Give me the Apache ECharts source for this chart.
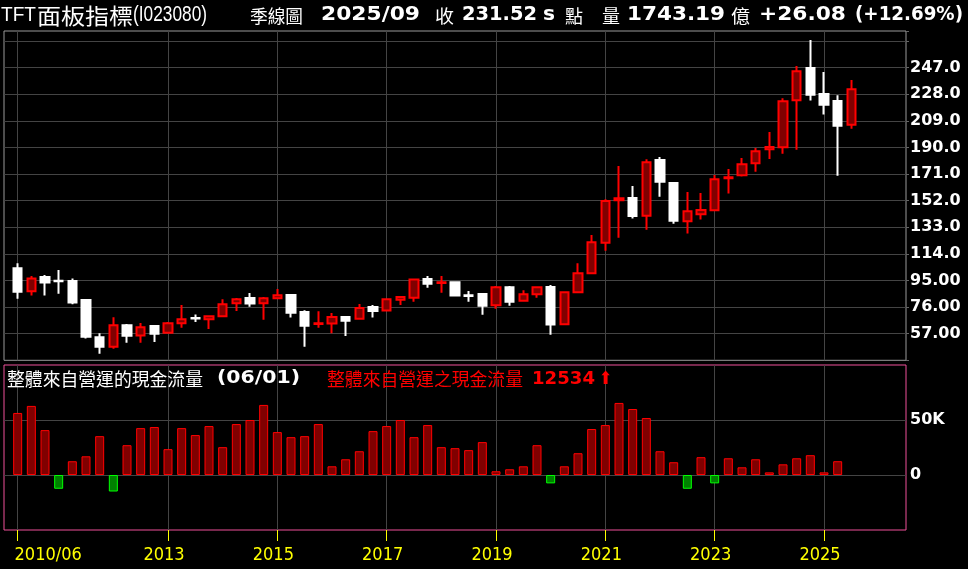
<!DOCTYPE html>
<html><head><meta charset="utf-8">
<script src="https://cdn.jsdelivr.net/npm/echarts@6/dist/echarts.min.js"></script>
<style>html,body{margin:0;padding:0;background:#000;}#c{width:968px;height:569px;}</style>
</head><body><div id="c"></div>
<script>
// ---- data ----
const quarters = ['2010/06','2010/09','2010/12',
 '2011/03','2011/06','2011/09','2011/12','2012/03','2012/06','2012/09','2012/12',
 '2013/03','2013/06','2013/09','2013/12','2014/03','2014/06','2014/09','2014/12',
 '2015/03','2015/06','2015/09','2015/12','2016/03','2016/06','2016/09','2016/12',
 '2017/03','2017/06','2017/09','2017/12','2018/03','2018/06','2018/09','2018/12',
 '2019/03','2019/06','2019/09','2019/12','2020/03','2020/06','2020/09','2020/12',
 '2021/03','2021/06','2021/09','2021/12','2022/03','2022/06','2022/09','2022/12',
 '2023/03','2023/06','2023/09','2023/12','2024/03','2024/06','2024/09','2024/12',
 '2025/03','2025/06','2025/09'];
const opens = [103.7,87.3,97.5,94.8,94.6,81.1,54.4,47.7,63.0,55.8,
 62.5,57.7,64.4,68.2,67.3,69.4,78.7,82.5,78.7,82.3,
 84.6,72.5,64.0,64.2,68.9,67.7,76.1,73.5,81.3,82.7,
 96.1,93.3,93.7,84.4,85.4,77.3,90.1,80.6,85.1,90.4,
 63.7,86.6,100.1,122.0,152.3,154.0,141.3,181.1,164.6,137.3,
 142.3,145.1,168.0,170.1,178.7,188.7,190.1,223.7,246.8,228.2,
 223.2,206.3];
const closes = [87.0,96.5,93.5,94.4,79.2,54.9,47.7,63.0,55.6,61.6,
 57.0,64.4,67.3,67.8,69.4,78.0,81.6,78.5,82.3,84.4,
 72.0,62.7,64.4,68.9,66.3,75.4,73.2,81.6,83.2,95.8,
 92.7,93.7,84.2,84.0,77.0,90.1,79.9,85.1,90.1,63.5,
 86.6,100.1,122.3,151.8,153.7,141.1,179.4,165.6,137.7,144.4,
 145.4,167.3,168.8,178.0,187.3,190.4,223.0,244.4,227.7,220.6,
 205.44,231.52];
const lows = [82.0,84.2,84.2,85.6,78.0,53.5,42.7,46.3,50.6,50.6,
 51.1,57.3,61.3,65.4,60.4,69.4,73.2,76.3,67.0,82.3,
 68.5,47.7,61.3,57.3,55.4,67.0,68.5,73.5,77.5,79.9,
 89.9,86.3,83.5,79.9,70.6,74.9,77.0,80.6,82.7,56.3,
 63.7,86.6,100.1,116.3,125.6,139.2,131.3,154.9,135.6,128.5,
 138.5,145.1,157.2,169.2,172.7,181.8,185.6,188.4,223.5,213.5,
 169.9,203.4];
const highs = [107.3,98.2,98.9,102.5,96.5,81.1,57.3,68.7,63.9,64.6,
 62.5,65.4,77.5,70.8,70.1,81.6,82.5,86.1,83.2,88.9,
 85.4,73.7,73.0,71.8,69.6,78.2,77.5,82.3,83.9,95.8,
 98.2,98.2,94.4,87.5,86.1,91.1,91.1,88.0,90.8,91.8,
 87.3,107.4,127.5,153.0,176.8,162.5,181.6,183.2,165.1,158.2,
 157.5,170.4,174.6,182.5,189.6,201.1,225.1,248.2,266.8,244.0,
 227.3,238.2];
// operating cash flow per quarter (last quarter not yet reported)
const cashFlow = [56400,62800,40800,-12500,12500,17000,35300,-15000,27100,42600,
 43600,23500,42600,36300,44500,25300,46300,50000,63700,39000,
 34400,35300,46300,7900,14300,21600,39900,44500,50000,34400,
 45400,25300,24400,22600,29900,3400,5200,7900,27100,-7600,
 7900,19800,41800,45400,65500,60000,51800,21600,11600,-12500,
 16200,-7600,15200,7000,14300,2400,9700,15200,18000,2400,
 12534, null];
const xTickCats   = ['2010/06','2013/03','2015/03','2017/03','2019/03','2021/03','2023/03','2025/03'];
const xTickLabels = ['2010/06','2013','2015','2017','2019','2021','2023','2025'];
const priceTicks = [57,76,95,114,133,152,171,190,209,228,247];
const cfTicks = [0, 50000];

// ---- build ----
const padBefore = 1, padAfter = 4;
const cats = [];
for (let i=0;i<padBefore;i++) cats.push('');
quarters.forEach(q=>cats.push(q));
for (let i=0;i<padAfter;i++) cats.push(' '.repeat(i+1));
const pad = (arr)=>{ const r=[]; for(let i=0;i<padBefore;i++) r.push('-'); arr.forEach(v=>r.push(v)); for(let i=0;i<padAfter;i++) r.push('-'); return r; };
const candleData = pad(quarters.map((q,i)=>[opens[i],closes[i],lows[i],highs[i]]));
const barData = pad(cashFlow.map(v=> v==null ? '-' : {
  value: v,
  itemStyle: v>=0 ? {color:'#800000', borderColor:'#ff0000'} : {color:'#008000', borderColor:'#00ff00'}
}));
const isTick = (idx,val)=> xTickCats.indexOf(val) >= 0;

const ctx = document.createElement('canvas').getContext('2d');
function txt(text, x, y, o){
  const font = (o.weight||'normal')+' '+o.size+'px '+o.family;
  let sx = 1;
  if (o.width){ ctx.font = font; sx = o.width / ctx.measureText(text).width; }
  return {type:'text', x:x, y:y, scaleX:sx, z:100, silent:true,
    style:{text:text, fill:o.color||'#ffffff', font:font, textAlign:'left', textVerticalAlign:'middle', align:'left', verticalAlign:'middle'}};
}
const CJK = "'Noto Sans CJK TC', 'Noto Sans CJK SC', sans-serif";
const LAT = "'Liberation Sans', Arial, sans-serif";
const DJB = "'DejaVu Sans', sans-serif";
const hy = 15;
const graphics = [
  txt('TFT', 1, hy, {size:21, family:LAT, width:35}),
  txt('面板指標', 37, hy+1, {size:22, family:CJK, width:96}),
  txt('(I023080)', 133, hy, {size:22, family:LAT, width:74}),
  txt('季線圖', 250, hy+1, {size:18, family:CJK, width:53}),
  txt('2025/09', 321, hy, {size:20, family:DJB, weight:'bold', width:99}),
  txt('收', 435, hy+1, {size:18, family:CJK, width:19}),
  txt('231.52', 462, hy, {size:20, family:DJB, weight:'bold', width:75}),
  txt('s', 543, hy, {size:20, family:DJB, weight:'bold', width:12}),
  txt('點', 565, hy+1, {size:18, family:CJK, width:18}),
  txt('量', 602, hy+1, {size:18, family:CJK, width:18}),
  txt('1743.19', 627, hy, {size:20, family:DJB, weight:'bold', width:98}),
  txt('億', 731, hy+1, {size:18, family:CJK, width:19}),
  txt('+26.08', 759, hy, {size:20, family:DJB, weight:'bold', width:87}),
  txt('(+12.69%)', 855, hy, {size:20, family:DJB, weight:'bold', width:108}),
  txt('整體來自營運的現金流量', 7, 379, {size:18, family:CJK, width:196}),
  txt('(06/01)', 217, 379, {size:17, family:DJB, weight:'bold', width:83}),
  txt('整體來自營運之現金流量', 327, 379, {size:18, family:CJK, width:196, color:'#ff0000'}),
  txt('12534', 532, 379, {size:18, family:DJB, weight:'bold', width:63, color:'#ff0000'}),
  txt('⬆', 599, 379, {size:18, family:DJB, weight:'bold', width:13, color:'#ff0000'})
];

const chart = echarts.init(document.getElementById('c'), null, {renderer:'canvas'});
const gridLine = '#444444';
chart.setOption({
  backgroundColor:'#000000',
  animation:false,
  graphic: graphics,
  grid:[
    {left:4, right:62, top:31, height:329.3, show:true, borderColor:'#9a9a9a', borderWidth:1, backgroundColor:'transparent'},
    {left:4, right:62, top:365, height:165, show:true, borderColor:'#f0509a', borderWidth:1, backgroundColor:'transparent'}
  ],
  xAxis:[
    {type:'category', gridIndex:0, data:cats, boundaryGap:false,
     axisLine:{show:false, onZero:false}, axisTick:{show:false}, axisLabel:{show:false},
     splitLine:{show:true, interval:isTick, lineStyle:{color:gridLine, width:1}}},
    {type:'category', gridIndex:1, data:cats, boundaryGap:false, position:'bottom',
     axisLine:{show:false, onZero:false},
     axisTick:{show:true, interval:isTick, length:11, lineStyle:{color:'#ffff00', width:1}},
     axisLabel:{show:true, interval:isTick, margin:25, verticalAlign:'middle',
       color:'#ffff00', fontSize:18, fontFamily:"'DejaVu Sans Condensed', 'DejaVu Sans', sans-serif",
       formatter:(val)=>{ const k = xTickCats.indexOf(val); if (k<0) return ''; return (k===0?'{f|':'{y|')+xTickLabels[k]+'}'; },
       rich:{
         f:{padding:[0,0,0,61], color:'#ffff00', fontSize:18, fontFamily:"'DejaVu Sans Condensed', 'DejaVu Sans', sans-serif"},
         y:{padding:[0,8,0,0], color:'#ffff00', fontSize:18, fontFamily:"'DejaVu Sans Condensed', 'DejaVu Sans', sans-serif"}
       }},
     splitLine:{show:true, interval:isTick, lineStyle:{color:gridLine, width:1}}}
  ],
  yAxis:[
    {type:'value', gridIndex:0, position:'right', min:38, max:273.2, interval:19, scale:false,
     axisLine:{show:false}, axisTick:{show:true, length:3, lineStyle:{color:'#666'}},
     axisLabel:{show:true, margin:4, color:'#ffffff', fontSize:16, fontWeight:'bold', fontFamily:DJB,
       formatter:(v)=>{ const m = priceTicks.find(t=>Math.abs(t-v)<1e-6); if (m===undefined) return ''; return m>=100 ? m.toFixed(1) : m.toFixed(2); }},
     splitLine:{show:true, lineStyle:{color:['transparent',gridLine,gridLine,gridLine,gridLine,gridLine,gridLine,gridLine,gridLine,gridLine,gridLine,gridLine,gridLine,'transparent']}}},
    {type:'value', gridIndex:1, position:'right', min:-50000, max:100000, interval:50000,
     axisLine:{show:false}, axisTick:{show:false},
     axisLabel:{show:true, margin:4, color:'#ffffff', fontSize:16, fontWeight:'bold', fontFamily:DJB,
       formatter:(v)=> v===cfTicks[1] ? '50K' : (v===cfTicks[0] ? '0' : '')},
     splitLine:{show:true, lineStyle:{color:['transparent',gridLine,gridLine,'transparent']}}}
  ],
  series:[
    {type:'candlestick', xAxisIndex:0, yAxisIndex:0, data:candleData, barWidth:9,
     itemStyle:{color:'#800000', color0:'#ffffff', borderColor:'#ff0000', borderColor0:'#ffffff', borderWidth:2}},
    {type:'bar', xAxisIndex:1, yAxisIndex:1, data:barData, barWidth:9,
     itemStyle:{borderWidth:1}}
  ]
});
</script></body></html>
